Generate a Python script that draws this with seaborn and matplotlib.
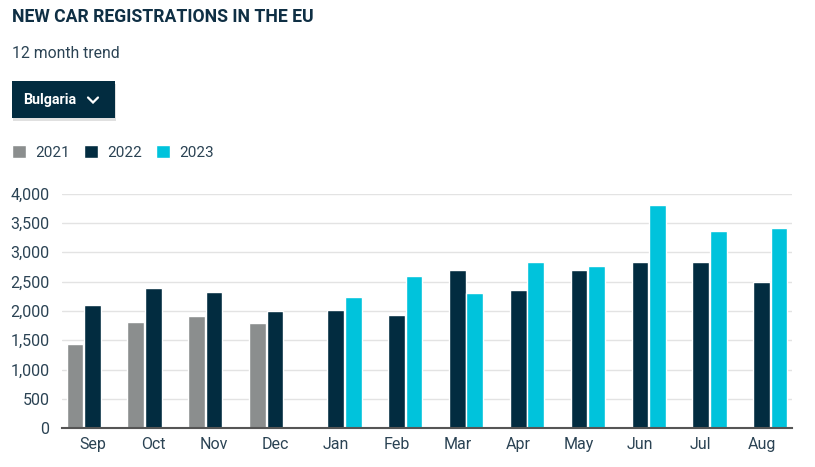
import seaborn as sns
import matplotlib.pyplot as plt
import pandas as pd
from matplotlib.patches import FancyBboxPatch
from matplotlib.lines import Line2D
from matplotlib.ticker import FuncFormatter

# Data (Bulgaria, new car registrations)
months = ['Sep', 'Oct', 'Nov', 'Dec', 'Jan', 'Feb', 'Mar', 'Apr', 'May', 'Jun', 'Jul', 'Aug']
years = ['2021', '2022', '2023']
vals_2021 = [1440, 1810, 1920, 1790]                       # Sep-Dec 2021
vals_2022_prev = [2100, 2390, 2320, 2000]                  # Sep-Dec 2022
vals_2022_curr = [2020, 1930, 2700, 2360, 2690, 2830, 2830, 2490]  # Jan-Aug 2022
vals_2023 = [2240, 2600, 2300, 2830, 2770, 3810, 3360, 3420]       # Jan-Aug 2023
colors = ['#8b8e8e', '#022c40', '#00c3dc']

rows = []
for m, v in zip(months[:4], vals_2021):
    rows.append((m, '2021', v))
for m, v in zip(months[:4], vals_2022_prev):
    rows.append((m, '2022', v))
for m, v in zip(months[4:], vals_2022_curr):
    rows.append((m, '2022', v))
for m, v in zip(months[4:], vals_2023):
    rows.append((m, '2023', v))
df = pd.DataFrame(rows, columns=['month', 'year', 'registrations'])

sns.set_theme(style='white')
plt.rcParams['font.family'] = ['Roboto', 'DejaVu Sans']

text_col = '#2b4354'
dark = '#0f2f44'

fig = plt.figure(figsize=(8.15, 4.67), dpi=100)
ax = fig.add_axes([62 / 815, 1 - 428.3 / 467, 730 / 815, 234.8 / 467])

sns.barplot(data=df, x='month', y='registrations', hue='year',
            order=months, hue_order=years, palette=colors,
            width=0.86, gap=0.04, saturation=1, ax=ax)

ax.set_ylim(0, 4000)
ax.set_xlim(-0.5, 11.5)
ax.set_yticks(range(0, 4001, 500))
ax.yaxis.set_major_formatter(FuncFormatter(lambda v, p: f'{int(v):,}'))
ax.grid(axis='y', color='#e3e3e3', linewidth=1)
ax.set_axisbelow(True)
for s in ['top', 'right', 'left']:
    ax.spines[s].set_visible(False)
ax.spines['bottom'].set_color('#555555')
ax.spines['bottom'].set_linewidth(1.5)
ax.tick_params(axis='both', length=0, labelsize=11.5, colors=text_col)
ax.tick_params(axis='y', pad=9)
ax.tick_params(axis='x', pad=6)
ax.set_xlabel('')
ax.set_ylabel('')

# legend at top-left
handles, labels = ax.get_legend_handles_labels()
ax.get_legend().remove()
leg = fig.legend(handles, labels, loc='upper left', bbox_to_anchor=(12 / 815, 1 - 145 / 467),
                 ncol=3, frameon=False, fontsize=11, handlelength=0.9, handleheight=0.9,
                 handletextpad=0.6, columnspacing=0.95, borderaxespad=0, borderpad=0)
for t in leg.get_texts():
    t.set_color(text_col)

# title, subtitle
fig.text(12 / 815, 1 - 17 / 467, 'NEW CAR REGISTRATIONS IN THE EU', fontsize=12.7,
         fontweight='bold', color=dark, va='center', ha='left')
fig.text(12 / 815, 1 - 54 / 467, '12 month trend', fontsize=11.3, color=text_col,
         va='center', ha='left')

# dropdown button
shadow = FancyBboxPatch((13 / 815, 1 - 121 / 467), 103 / 815, 37 / 467,
                        boxstyle='square,pad=0', transform=fig.transFigure,
                        facecolor='#000000', alpha=0.12, edgecolor='none')
fig.add_artist(shadow)
btn = FancyBboxPatch((12 / 815, 1 - 118 / 467), 103 / 815, 37 / 467,
                     boxstyle='square,pad=0', transform=fig.transFigure,
                     facecolor='#022c40', edgecolor='none')
fig.add_artist(btn)
fig.text(23 / 815, 1 - 100 / 467, 'Bulgaria', fontsize=10.3, fontweight='bold',
         color='white', va='center', ha='left')
fig.add_artist(Line2D([88 / 815, 93 / 815, 98 / 815],
                      [1 - 97.5 / 467, 1 - 102.5 / 467, 1 - 97.5 / 467],
                      transform=fig.transFigure, color='white', linewidth=1.6,
                      solid_capstyle='round', solid_joinstyle='miter'))

fig.savefig('out.png', dpi=100)
